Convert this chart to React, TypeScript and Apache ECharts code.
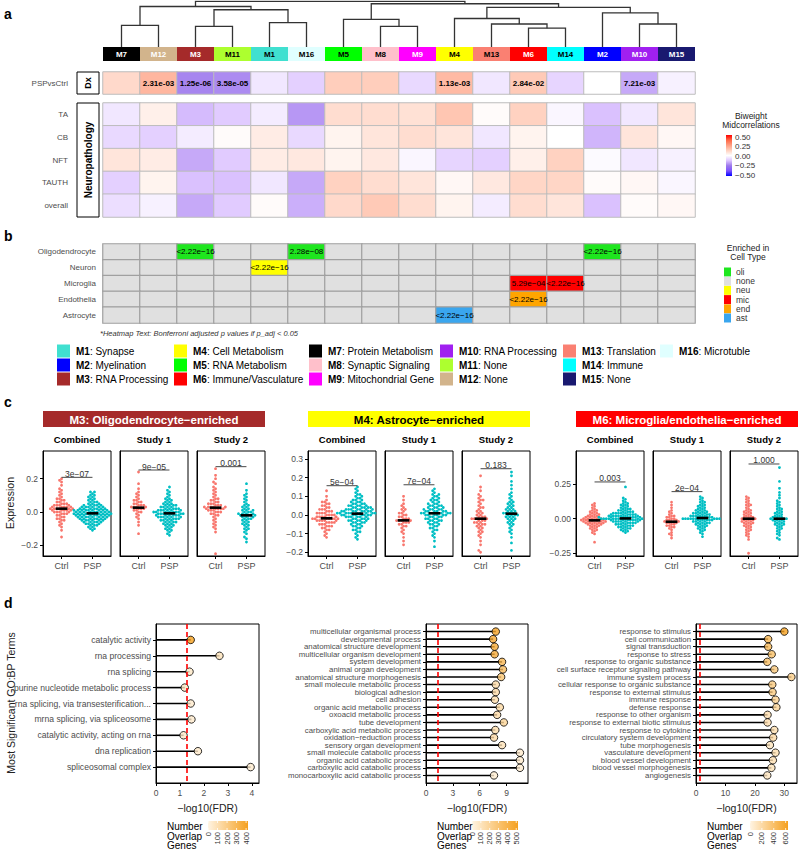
import React, { useEffect, useRef } from "react";
import * as echarts from "echarts";

const FONT = "'Liberation Sans', Arial, Helvetica, sans-serif";
const GREY = "#4D4D4D";

// ---------------- Panel a ----------------
const modules = ["M7", "M12", "M3", "M11", "M1", "M16", "M5", "M8", "M9", "M4", "M13", "M6", "M14", "M2", "M10", "M15"];
const moduleColors: Record<string, string> = {
  M1: "#40E0D0", M2: "#0000FF", M3: "#A52A2A", M4: "#FFFF00", M5: "#00FF00", M6: "#FF0000",
  M7: "#000000", M8: "#FFC0CB", M9: "#FF00FF", M10: "#A020F0", M11: "#ADFF2F", M12: "#D2B48C",
  M13: "#FA8072", M14: "#00FFFF", M15: "#191970", M16: "#E0FFFF",
};
const whiteLabelModules = ["M7", "M12", "M3", "M9", "M6", "M2", "M10", "M15"];
// dendrogram merges (left, right, height); "#k" = k-th merge
const mergeLeft = ["M7", "M3", "M1", "#1", "#0", "M8", "M5", "M6", "M13", "M4", "M10", "M2", "#9", "#6", "#4"];
const mergeRight = ["M12", "M11", "M16", "#2", "#3", "M9", "#5", "M14", "#7", "#8", "M15", "#10", "#11", "#12", "#13"];
const mergeHeight = [0.47, 0.45, 0.53, 0.81, 0.88, 0.45, 0.6, 0.41, 0.5, 0.62, 0.5, 0.74, 0.86, 0.94, 0.99];

const dxRow = ["PSPvsCtrl"];
const dxBicor = [0.1, 0.19, -0.23, -0.22, -0.05, -0.1, 0.13, 0.13, -0.08, 0.18, -0.05, 0.14, -0.09, 0.0, -0.17, -0.03];
const dxPText = ["", "2.31e-03", "1.25e-06", "3.58e-05", "", "", "", "", "", "1.13e-03", "", "2.84e-02", "", "", "7.21e-03", ""];

const npRows = ["TA", "CB", "NFT", "TAUTH", "overall"];
const npTA = [-0.05, 0.04, -0.14, -0.11, -0.04, -0.2, 0.09, 0.09, 0.08, 0.15, 0.01, 0.12, -0.02, -0.13, -0.05, 0.07];
const npCB = [-0.08, -0.1, -0.04, 0.01, 0.05, -0.08, 0.03, 0.07, 0.09, 0.07, -0.05, 0.03, 0.0, -0.15, 0.07, 0.02];
const npNFT = [0.07, 0.05, -0.17, -0.11, 0.05, 0.06, 0.03, 0.06, -0.02, -0.09, -0.1, 0.04, 0.12, -0.01, -0.05, -0.03];
const npTAUTH = [-0.1, 0.03, -0.13, -0.13, -0.05, -0.17, 0.12, 0.09, 0.07, 0.02, 0.06, 0.11, 0.11, 0.01, 0.02, -0.02];
const npOverall = [-0.07, -0.03, -0.17, -0.11, 0.01, -0.16, 0.1, 0.14, 0.09, 0.03, -0.04, 0.09, 0.07, -0.13, 0.01, 0.02];

const bicorColors = ["#0000FF", "#7F52FF", "#9D79EC", "#DDC4FF", "#FFFFFF", "#FFD0BE", "#FF9E82", "#FF6846", "#FF0000"];
const bicorTickLabels = ["0.50", "0.25", "0.00", "\u22120.25", "\u22120.50"];

// ---------------- Panel b ----------------
const cellTypes = ["Oligodendrocyte", "Neuron", "Microglia", "Endothelia", "Astrocyte"];
const enrichKeys = ["oli", "none", "neu", "mic", "end", "ast"];
const enrichColors = ["#1EE61E", "#E0E0E0", "#FFFF00", "#FF0000", "#FFA500", "#3AA6EE"];
const hitModule = ["M3", "M16", "M2", "M1", "M6", "M14", "M6", "M4"];
const hitCellType = ["Oligodendrocyte", "Oligodendrocyte", "Oligodendrocyte", "Neuron", "Microglia", "Microglia", "Endothelia", "Astrocyte"];
const hitEnrich = ["oli", "oli", "oli", "neu", "mic", "mic", "end", "ast"];
const hitP = ["<2.22e\u221216", "2.28e\u221208", "<2.22e\u221216", "<2.22e\u221216", "5.29e\u221204", "<2.22e\u221216", "<2.22e\u221216", "<2.22e\u221216"];
const footnote = "*Heatmap Text: Bonferroni adjusted p values if p_adj < 0.05";

const legendModules = ["M1", "M2", "M3", "M4", "M5", "M6", "M7", "M8", "M9", "M10", "M11", "M12", "M13", "M14", "M15", "M16"];
const legendNames = ["Synapse", "Myelination", "RNA Processing", "Cell Metabolism", "RNA Metabolism", "Immune/Vasculature",
  "Protein Metabolism", "Synaptic Signaling", "Mitochondrial Gene", "RNA Processing", "None", "None", "Translation", "Immune", "None", "Microtuble"];

// ---------------- Panel c (values in hundredths) ----------------
const cTitles = ["M3: Oligodendrocyte\u2212enriched", "M4: Astrocyte\u2212enriched", "M6: Microglia/endothelia\u2212enriched"];
const cFacets = ["Combined", "Study 1", "Study 2"];
const cGroups = ["Ctrl", "PSP"];
const cYMin = [-0.264, -0.22, -0.27];
const cYMax = [0.366, 0.343, 0.49];
const cYTicks = [[-0.2, 0, 0.2], [-0.2, -0.1, 0, 0.1, 0.2, 0.3], [-0.25, 0, 0.25]];
const cYTickLabels = [["\u22120.2", "0.0", "0.2"], ["\u22120.2", "\u22120.1", "0.0", "0.1", "0.2", "0.3"], ["\u22120.25", "0.00", "0.25"]];

const m3CombCtrl = [-15,-11,-9,-8,-7,-6,-5,-5,-4,-4,-3,-3,-2,-2,-1,-1,-1,0,0,0,0,1,1,1,1,1,2,2,2,2,2,2,3,3,3,3,3,4,4,4,4,5,5,5,6,6,7,7,8,8,9,10,11,12,13,14,16,18,19,20];
const m3CombPsp = [-11,-10,-10,-9,-9,-8,-8,-8,-7,-7,-7,-7,-6,-6,-6,-6,-6,-5,-5,-5,-5,-5,-5,-4,-4,-4,-4,-4,-4,-4,-3,-3,-3,-3,-3,-3,-3,-3,-2,-2,-2,-2,-2,-2,-2,-2,-2,-1,-1,-1,-1,-1,-1,-1,-1,-1,-1,0,0,0,0,0,0,0,0,0,1,1,1,1,1,1,1,1,1,2,2,2,2,2,2,2,3,3,3,3,3,3,4,4,4,4,4,5,5,5,6,6,6,7,7,8,8,9,9,10,10,11,12,12];
const m3S1Ctrl = [-13,-8,-6,-4,-3,-2,-1,0,0,1,1,2,2,2,3,3,3,3,4,4,4,5,5,6,6,7,7,8,9,10,11,12,14,17,24];
const m3S1Psp = [-14,-13,-12,-11,-11,-10,-10,-9,-9,-8,-8,-8,-7,-7,-7,-6,-6,-6,-6,-5,-5,-5,-5,-4,-4,-4,-4,-4,-3,-3,-3,-3,-3,-3,-2,-2,-2,-2,-2,-2,-1,-1,-1,-1,-1,-1,-1,0,0,0,0,0,0,0,1,1,1,1,1,1,2,2,2,2,2,3,3,3,3,4,4,4,4,5,5,5,6,6,7,7,8,8,9,10,11,12,13,15];
const m3S2Ctrl = [-25,-12,-10,-9,-8,-7,-6,-5,-4,-3,-2,-2,-1,-1,0,0,0,1,1,1,2,2,2,2,2,3,3,3,3,3,4,4,4,5,5,5,6,6,7,7,8,8,9,10,11,12,13,14,15,17,18,20,22,26];
const m3S2Psp = [-18,-16,-15,-13,-12,-11,-10,-10,-9,-8,-8,-7,-7,-6,-6,-5,-5,-4,-4,-4,-3,-3,-3,-2,-2,-2,-2,-2,-1,-1,-1,-1,0,0,0,1,1,1,2,2,3,3,4,4,5,6,7,8,9,10,11,13,17];

const m4CombCtrl = [-12,-11,-10,-9,-8,-8,-7,-7,-6,-6,-6,-5,-5,-5,-4,-4,-4,-4,-3,-3,-3,-3,-3,-2,-2,-2,-2,-2,-2,-2,-1,-1,-1,-1,-1,0,0,0,0,1,1,1,1,2,2,2,3,3,3,4,4,5,5,6,6,7,7,8,10,13];
const m4CombPsp = [-13,-12,-11,-10,-9,-9,-8,-8,-7,-7,-6,-6,-6,-5,-5,-5,-4,-4,-4,-4,-3,-3,-3,-3,-3,-2,-2,-2,-2,-2,-1,-1,-1,-1,-1,-1,0,0,0,0,0,0,0,0,1,1,1,1,1,1,1,1,1,1,2,2,2,2,2,2,2,2,3,3,3,3,3,3,3,4,4,4,4,4,4,5,5,5,5,5,6,6,6,6,7,7,7,8,8,8,9,9,10,10,11,11,12,13,14,15];
const m4S1Ctrl = [-16,-14,-12,-10,-9,-8,-7,-6,-6,-5,-5,-4,-4,-4,-3,-3,-3,-3,-2,-2,-2,-1,-1,0,0,1,1,2,3,3,4,5,6,8,10];
const m4S1Psp = [-17,-14,-12,-11,-10,-9,-8,-8,-7,-7,-6,-6,-5,-5,-5,-4,-4,-4,-3,-3,-3,-3,-2,-2,-2,-2,-1,-1,-1,-1,0,0,0,0,0,0,1,1,1,1,1,1,1,1,2,2,2,2,2,2,3,3,3,3,3,4,4,4,4,5,5,5,5,6,6,6,7,7,8,8,8,9,9,10,10,11,11,12,13,14];
const m4S2Ctrl = [-20,-19,-16,-14,-12,-11,-10,-9,-9,-8,-7,-7,-6,-6,-5,-5,-5,-4,-4,-4,-3,-3,-3,-2,-2,-2,-2,-2,-1,-1,-1,0,0,1,1,2,2,3,4,4,5,6,7,8,8,9,10,11,13,15,21];
const m4S2Psp = [-19,-15,-12,-10,-9,-8,-7,-6,-5,-5,-4,-4,-3,-3,-2,-2,-2,-1,-1,-1,0,0,0,0,1,1,1,1,2,2,2,3,3,3,4,4,5,5,6,6,7,7,8,9,10,11,12,14,16,18,21,23];

const m6CombCtrl = [-17,-11,-10,-9,-8,-8,-7,-7,-6,-6,-5,-5,-5,-4,-4,-4,-4,-3,-3,-3,-3,-3,-2,-2,-2,-2,-2,-2,-1,-1,-1,-1,-1,-1,0,0,0,0,0,1,1,1,1,2,2,2,3,3,3,4,4,5,5,6,6,7,8,9,10,11];
const m6CombPsp = [-10,-9,-9,-8,-8,-7,-7,-7,-6,-6,-6,-5,-5,-5,-5,-4,-4,-4,-4,-3,-3,-3,-3,-3,-2,-2,-2,-2,-2,-2,-1,-1,-1,-1,-1,-1,-1,0,0,0,0,0,0,0,0,0,0,0,0,0,0,1,1,1,1,1,1,1,1,2,2,2,2,2,2,2,3,3,3,3,3,3,4,4,4,4,4,5,5,5,5,6,6,6,7,7,7,8,8,9,9,10,10,11,11,12,13,14,15,23];
const m6S1Ctrl = [-14,-12,-11,-10,-8,-7,-6,-6,-5,-5,-4,-4,-3,-3,-3,-2,-2,-2,-2,-1,-1,-1,0,0,1,1,2,2,3,4,5,6,8,10,12];
const m6S1Psp = [-13,-11,-10,-9,-8,-8,-7,-7,-6,-6,-5,-5,-5,-4,-4,-4,-3,-3,-3,-3,-2,-2,-2,-2,-1,-1,-1,-1,-1,0,0,0,0,0,0,0,0,0,0,0,1,1,1,1,1,1,2,2,2,2,2,3,3,3,3,4,4,4,4,5,5,5,6,6,6,7,7,8,8,9,9,10,10,11,12,12,13,14,15,16];
const m6S2Ctrl = [-25,-15,-13,-12,-11,-10,-9,-8,-8,-7,-6,-6,-5,-5,-4,-4,-3,-3,-3,-2,-2,-2,-1,-1,-1,0,0,0,0,1,1,1,2,2,3,3,4,4,5,5,6,6,7,8,9,10,10,11,12,13,14,15,16];
const m6S2Psp = [-15,-14,-12,-11,-10,-9,-8,-7,-7,-6,-5,-5,-4,-4,-4,-3,-3,-2,-2,-2,-1,-1,-1,0,0,0,0,0,1,1,1,2,2,3,3,4,4,5,5,6,7,7,8,9,10,11,12,13,15,17,19,22,27,37];

const m3Medians = [[0.02, -0.008], [0.026, -0.008], [0.026, -0.02]];
const m4Medians = [[-0.018, 0.007], [-0.029, 0.009], [-0.02, 0.007]];
const m6Medians = [[-0.012, 0.002], [-0.022, 0.005], [0.0, 0.0]];
const m3Brackets = [0.208, 0.252, 0.272];
const m4Brackets = [0.157, 0.162, 0.248];
const m6Brackets = [0.266, 0.196, 0.396];
const m3PText = ["3e\u221207", "9e\u221205", "0.001"];
const m4PText = ["5e\u221204", "7e\u221204", "0.183"];
const m6PText = ["0.003", "2e\u221204", "1.000"];

// ---------------- Panel d ----------------
const dTerms1 = ["catalytic activity", "rna processing", "rna splicing", "purine nucleotide metabolic process",
  "rna splicing, via transesterification...", "mrna splicing, via spliceosome", "catalytic activity, acting on rna",
  "dna replication", "spliceosomal complex"];
const dFdr1 = [1.45, 2.65, 1.4, 1.2, 1.45, 1.48, 1.15, 1.75, 3.95];
const dGenes1 = [430, 90, 60, 70, 50, 50, 60, 55, 45];
const dTerms2 = ["multicellular organismal process", "developmental process", "anatomical structure development",
  "multicellular organism development", "system development", "animal organ development",
  "anatomical structure morphogenesis", "small molecule metabolic process", "biological adhesion", "cell adhesion",
  "organic acid metabolic process", "oxoacid metabolic process", "tube development", "carboxylic acid metabolic process",
  "oxidation\u2212reduction process", "sensory organ development", "small molecule catabolic process",
  "organic acid catabolic process", "carboxylic acid catabolic process", "monocarboxylic acid catabolic process"];
const dFdr2 = [7.8, 7.5, 7.67, 7.67, 8.5, 8.6, 8.4, 7.8, 7.8, 7.7, 8.25, 7.95, 8.7, 7.75, 7.6, 8.5, 10.5, 10.5, 10.5, 7.6];
const dGenes2 = [500, 470, 460, 450, 380, 350, 300, 150, 160, 150, 170, 160, 200, 150, 160, 120, 60, 60, 55, 50];
const dTerms3 = ["response to stimulus", "cell communication", "signal transduction", "response to stress",
  "response to organic substance", "cell surface receptor signaling pathway", "immune system process",
  "cellular response to organic substance", "response to external stimulus", "immune response", "defense response",
  "response to other organism", "response to external biotic stimulus", "response to cytokine",
  "circulatory system development", "tube morphogenesis", "vasculature development", "blood vessel development",
  "blood vessel morphogenesis", "angiogenesis"];
const dFdr3 = [30.0, 24.5, 24.5, 25.7, 24.2, 26.6, 32.4, 25.9, 26.0, 27.0, 27.3, 24.3, 24.3, 26.6, 26.2, 25.1, 27.0, 26.1, 25.6, 24.2];
const dGenes3 = [650, 470, 450, 400, 400, 330, 300, 320, 320, 270, 250, 180, 180, 170, 200, 130, 170, 160, 140, 120];
const dXMax = [4.3, 11.4, 34.3];
const dXTicks = [[0, 1, 2, 3, 4], [0, 3, 6, 9], [0, 10, 20, 30]];
const dLegendMax = [420, 520, 640];
const dLegendTicks = [[0, 100, 200, 300, 400], [0, 100, 200, 300, 400, 500], [0, 200, 400, 600]];
const fdrCutoffLog = 1.301;

// ---------------- layout ----------------
const HM_L = 103, HM_W = 592;
const C_START = [43, 308, 576], C_BOX_W = 68, C_GAP = 9, C_TOP = 451, C_H = 105;
const D_LEFT = [156, 426, 696], D_W = [103, 102, 101], D_TOP = 624, D_H = 159;
const D_TERM_FONT = [8.6, 7.8, 7.8];

function swarm(vals: number[], pxY: number, d: number): number[] {
  const order = vals.map((_, i) => i).sort((a, b) => vals[a] - vals[b]);
  const placed: { x: number; y: number }[] = [];
  const out = new Array(vals.length).fill(0);
  for (const i of order) {
    const y = vals[i] * pxY;
    const nb = placed.filter((p) => Math.abs(p.y - y) < d);
    const cands = [0];
    nb.forEach((p) => {
      const dx = Math.sqrt(Math.max(0, d * d - (p.y - y) * (p.y - y)));
      cands.push(p.x + dx + 1e-4, p.x - dx - 1e-4);
    });
    cands.sort((a, b) => Math.abs(a) - Math.abs(b) || a - b);
    let xo = 0;
    for (const c of cands) {
      if (nb.every((p) => (p.x - c) * (p.x - c) + (p.y - y) * (p.y - y) >= d * d - 1e-3)) { xo = c; break; }
    }
    placed.push({ x: xo, y });
    out[i] = xo;
  }
  return out;
}

function txt(x: number, y: number, text: string, o: any = {}) {
  const size = o.size ?? 9, weight = o.weight ?? "normal", color = o.color ?? "#000";
  const align = o.align ?? "left", valign = o.valign ?? "middle";
  return {
    type: "text", x, y, rotation: o.rotation ?? 0, silent: true, z: 100,
    style: {
      text, x: 0, y: 0, fill: color, fontSize: size, fontWeight: weight, fontStyle: o.italic ? "italic" : "normal",
      fontFamily: FONT, textAlign: align, align, textVerticalAlign: valign, verticalAlign: valign, rich: o.rich,
    },
  };
}

function buildOption() {
  const grid: any[] = [], xAxis: any[] = [], yAxis: any[] = [], series: any[] = [], visualMap: any[] = [], graphic: any[] = [];
  const add = (g: any, xa: any, ya: any) => {
    const i = grid.length;
    grid.push({ containLabel: false, outerBoundsMode: "none", ...g });
    xAxis.push({ gridIndex: i, ...xa });
    yAxis.push({ gridIndex: i, ...ya });
    return i;
  };
  const blackLine = { show: true, onZero: false, lineStyle: { color: "#000", width: 1 } };

  // ----- a: dendrogram -----
  const gD = add({ left: HM_L, top: 1, width: HM_W, height: 46 },
    { type: "value", min: 0, max: 16, show: false }, { type: "value", min: 0, max: 1, show: false });
  const pos: Record<string, number[]> = {};
  modules.forEach((m, i) => (pos[m] = [i + 0.5, 0]));
  const dLines = mergeLeft.map((l, k) => {
    const a = pos[l], b = pos[mergeRight[k]], h = mergeHeight[k];
    pos["#" + k] = [(a[0] + b[0]) / 2, h];
    return { coords: [[a[0], a[1]], [a[0], h], [b[0], h], [b[0], b[1]]] };
  });
  series.push({ type: "lines", coordinateSystem: "cartesian2d", xAxisIndex: gD, yAxisIndex: gD, polyline: true, silent: true,
    data: dLines, lineStyle: { color: "#333", width: 1.3, opacity: 1 } });

  // module colour boxes
  const gM = add({ left: HM_L, top: 47, width: HM_W, height: 14 },
    { type: "category", data: modules, show: false }, { type: "value", min: 0, max: 1, show: false });
  series.push({ type: "bar", xAxisIndex: gM, yAxisIndex: gM, barCategoryGap: "0%", silent: true,
    data: modules.map((m) => ({ value: 1, itemStyle: { color: moduleColors[m] },
      label: { color: whiteLabelModules.includes(m) ? "#fff" : "#000" } })),
    label: { show: true, position: "inside", formatter: "{b}", fontSize: 8, fontWeight: "bold", fontFamily: FONT } });

  // Dx row
  const gDx = add({ left: HM_L, top: 72, width: HM_W, height: 22 },
    { type: "category", data: modules, show: false },
    { type: "category", data: dxRow, axisLine: { show: false }, axisTick: { show: false },
      axisLabel: { fontSize: 8, color: GREY, margin: 35, fontFamily: FONT } });
  const dxIdx = series.length;
  series.push({ type: "heatmap", xAxisIndex: gDx, yAxisIndex: gDx, data: dxBicor.map((v, i) => [i, 0, v]),
    itemStyle: { borderColor: "#BDBDBD", borderWidth: 1 }, emphasis: { disabled: true },
    label: { show: true, formatter: (p: any) => dxPText[p.value[0]], fontSize: 8, fontWeight: "bold", color: "#000", fontFamily: FONT } });

  // neuropathology
  const gNp = add({ left: HM_L, top: 103, width: HM_W, height: 114 },
    { type: "category", data: modules, show: false },
    { type: "category", data: npRows, inverse: true, axisLine: { show: false }, axisTick: { show: false },
      axisLabel: { fontSize: 8, color: GREY, margin: 35, fontFamily: FONT } });
  const npIdx = series.length;
  const npData: any[] = [];
  [npTA, npCB, npNFT, npTAUTH, npOverall].forEach((row, r) => row.forEach((v, i) => npData.push([i, r, v])));
  series.push({ type: "heatmap", xAxisIndex: gNp, yAxisIndex: gNp, data: npData, emphasis: { disabled: true },
    itemStyle: { borderColor: "#BDBDBD", borderWidth: 1 } });
  visualMap.push({ type: "continuous", show: false, min: -0.5, max: 0.5, dimension: 2, seriesIndex: [dxIdx, npIdx],
    inRange: { color: bicorColors } });

  // ----- b: cell types -----
  const gC = add({ left: HM_L, top: 244, width: HM_W, height: 79 },
    { type: "category", data: modules, show: false },
    { type: "category", data: cellTypes, inverse: true, axisLine: { show: false }, axisTick: { show: false },
      axisLabel: { fontSize: 8, color: GREY, margin: 7, fontFamily: FONT } });
  const cellText: Record<string, string> = {};
  const cellType: Record<string, number> = {};
  hitModule.forEach((m, k) => {
    const key = modules.indexOf(m) + "," + cellTypes.indexOf(hitCellType[k]);
    cellText[key] = hitP[k];
    cellType[key] = enrichKeys.indexOf(hitEnrich[k]);
  });
  const cellData: any[] = [];
  cellTypes.forEach((_, r) => modules.forEach((_, i) => {
    const key = i + "," + r;
    cellData.push([i, r, cellType[key] ?? enrichKeys.indexOf("none")]);
  }));
  const cellIdx = series.length;
  series.push({ type: "heatmap", xAxisIndex: gC, yAxisIndex: gC, data: cellData, emphasis: { disabled: true },
    itemStyle: { borderColor: "#A0A0A0", borderWidth: 1.2 },
    label: { show: true, formatter: (p: any) => cellText[p.value[0] + "," + p.value[1]] ?? "", fontSize: 8, color: "#000", fontFamily: FONT } });
  visualMap.push({ type: "piecewise", show: false, dimension: 2, seriesIndex: cellIdx,
    pieces: enrichKeys.map((_, i) => ({ value: i, color: enrichColors[i] })) });

  // ----- c: beeswarm facets -----
  const cData = [
    [[m3CombCtrl, m3CombPsp], [m3S1Ctrl, m3S1Psp], [m3S2Ctrl, m3S2Psp]],
    [[m4CombCtrl, m4CombPsp], [m4S1Ctrl, m4S1Psp], [m4S2Ctrl, m4S2Psp]],
    [[m6CombCtrl, m6CombPsp], [m6S1Ctrl, m6S1Psp], [m6S2Ctrl, m6S2Psp]],
  ];
  const cMed = [m3Medians, m4Medians, m6Medians];
  const cBr = [m3Brackets, m4Brackets, m6Brackets];
  const cBrText = [m3PText, m4PText, m6PText];
  const groupColors = ["#F8766D", "#00BFC4"];
  cData.forEach((facets, mi) => {
    facets.forEach((groups, f) => {
      const left = C_START[mi] + f * (C_BOX_W + C_GAP);
      const ticks = cYTicks[mi];
      const g = add({ left, top: C_TOP, width: C_BOX_W, height: C_H, show: true, borderColor: "#000", borderWidth: 1 },
        { type: "value", min: 0.4, max: 2.6, splitLine: { show: false }, axisLine: blackLine,
          axisTick: { show: true, customValues: [1, 2], length: 3, lineStyle: { color: "#000" } },
          axisLabel: { customValues: [1, 2], formatter: (v: number) => cGroups[Math.round(v) - 1], fontSize: 9, color: GREY, margin: 5, fontFamily: FONT } },
        { type: "value", min: cYMin[mi], max: cYMax[mi], splitLine: { show: false }, axisLine: blackLine,
          axisTick: { show: f === 0, customValues: ticks, length: 3, lineStyle: { color: "#000" } },
          axisLabel: { show: f === 0, customValues: ticks, fontSize: 8.5, color: GREY, margin: 5, fontFamily: FONT,
            showMinLabel: true, showMaxLabel: true, hideOverlap: false,
            formatter: (v: number) => {
              let bi = 0;
              ticks.forEach((t, k) => { if (Math.abs(t - v) < Math.abs(ticks[bi] - v)) bi = k; });
              return cYTickLabels[mi][bi];
            } } });
      const pxX = C_BOX_W / 2.2, pxY = C_H / (cYMax[mi] - cYMin[mi]);
      groups.forEach((vals100, gi) => {
        const vals = vals100.map((v) => v / 100);
        const off = swarm(vals, pxY, 2.6);
        series.push({ type: "scatter", xAxisIndex: g, yAxisIndex: g, symbolSize: 2.8, silent: true, z: 3,
          itemStyle: { color: groupColors[gi], opacity: 1 },
          data: vals.map((v, i) => [gi + 1 + off[i] / pxX, v]) });
      });
      series.push({ type: "custom", xAxisIndex: g, yAxisIndex: g, silent: true, z: 5,
        data: [[1, cMed[mi][f][0]], [2, cMed[mi][f][1]]],
        renderItem: (_p: any, api: any) => {
          const a = api.coord([api.value(0) - 0.19, api.value(1)]);
          const b = api.coord([api.value(0) + 0.19, api.value(1)]);
          return { type: "line", shape: { x1: a[0], y1: a[1], x2: b[0], y2: b[1] }, style: { stroke: "#000", lineWidth: 2.6 } };
        } });
      series.push({ type: "custom", xAxisIndex: g, yAxisIndex: g, silent: true, z: 5,
        data: [[1, 2, cBr[mi][f]]],
        renderItem: (_p: any, api: any) => {
          const a = api.coord([api.value(0), api.value(2)]);
          const b = api.coord([api.value(1), api.value(2)]);
          return { type: "group", children: [
            { type: "line", shape: { x1: a[0], y1: a[1], x2: b[0], y2: b[1] }, style: { stroke: "#333", lineWidth: 0.9 } },
            { type: "text", style: { text: cBrText[mi][f], x: (a[0] + b[0]) / 2, y: a[1] + 1, fill: "#333", fontSize: 8.5,
              fontFamily: FONT, textAlign: "center", align: "center", textVerticalAlign: "bottom", verticalAlign: "bottom" } },
          ] };
        } });
    });
  });

  // ----- d: GO lollipops -----
  const dTerms = [dTerms1, dTerms2, dTerms3], dFdr = [dFdr1, dFdr2, dFdr3], dGenes = [dGenes1, dGenes2, dGenes3];
  dTerms.forEach((terms, p) => {
    const n = terms.length;
    const idxs = terms.map((_, i) => i + 1);
    const g = add({ left: D_LEFT[p], top: D_TOP, width: D_W[p], height: D_H, show: true, borderColor: "#000", borderWidth: 1 },
      { type: "value", min: 0, max: dXMax[p], splitLine: { show: false }, axisLine: blackLine,
        axisTick: { show: true, customValues: dXTicks[p], length: 3, lineStyle: { color: "#000" } },
        axisLabel: { customValues: dXTicks[p], fontSize: 8.5, color: GREY, margin: 5, fontFamily: FONT,
          showMinLabel: true, showMaxLabel: true, hideOverlap: false } },
      { type: "value", min: 0, max: n + 1, inverse: true, splitLine: { show: false }, axisLine: blackLine,
        axisTick: { show: true, customValues: idxs, length: 3, lineStyle: { color: "#000" } },
        axisLabel: { show: false } });
    // term labels (one per data row, placed through the y scale)
    const fs = D_TERM_FONT[p];
    series.push({ type: "custom", xAxisIndex: g, yAxisIndex: g, silent: true, clip: false, z: 6,
      data: terms.map((_, i) => [0, i + 1]),
      renderItem: (pr: any, api: any) => {
        const pt = api.coord([0, api.value(1)]);
        return { type: "text", style: { text: terms[pr.dataIndex], x: pt[0] - 5, y: pt[1], fill: GREY, fontSize: fs, fontFamily: FONT,
          textAlign: "right", align: "right", textVerticalAlign: "middle", verticalAlign: "middle" } };
      } });
    series.push({ type: "custom", xAxisIndex: g, yAxisIndex: g, silent: true, z: 2,
      data: dFdr[p].map((v, i) => [v, i + 1]),
      renderItem: (_p: any, api: any) => {
        const a = api.coord([0, api.value(1)]);
        const b = api.coord([api.value(0), api.value(1)]);
        return { type: "line", shape: { x1: a[0], y1: a[1], x2: b[0], y2: b[1] }, style: { stroke: "#000", lineWidth: 1.6 } };
      } });
    series.push({ type: "scatter", xAxisIndex: g, yAxisIndex: g, silent: true, z: 3, symbolSize: 1,
      itemStyle: { opacity: 0 }, data: [[fdrCutoffLog, 0]],
      label: { show: true, position: "top", distance: 3, formatter: "\u2212log10(0.05)", color: "#FF0000", fontSize: 8.5, fontFamily: FONT },
      markLine: { silent: true, symbol: ["none", "none"], label: { show: false },
        lineStyle: { color: "#FF0000", type: [5, 3], width: 1.6 }, data: [{ xAxis: fdrCutoffLog }] } });
    const scIdx = series.length;
    series.push({ type: "scatter", xAxisIndex: g, yAxisIndex: g, silent: true, z: 4, symbolSize: 7.5,
      itemStyle: { borderColor: "#000", borderWidth: 1 },
      data: dFdr[p].map((v, i) => [v, i + 1, dGenes[p][i]]) });
    visualMap.push({ type: "continuous", show: false, min: 0, max: dLegendMax[p], dimension: 2, seriesIndex: scIdx,
      inRange: { color: ["#FFF4E3", "#F5A01E"] } });

    // axis title + legend
    graphic.push(txt(D_LEFT[p] + D_W[p] / 2, 808, "\u2212log10(FDR)", { size: 10.5, align: "center", color: "#222" }));
    const lx = D_LEFT[p] + 11, bx = D_LEFT[p] + (p === 0 ? 52 : p === 1 ? 46 : 54), bw = p === 0 ? 40 : p === 1 ? 46 : 38;
    graphic.push(txt(lx, 826, "Number", { size: 10 }));
    graphic.push(txt(lx, 836, "Overlap", { size: 10 }));
    graphic.push(txt(lx, 845.5, "Genes", { size: 10 }));
    graphic.push({ type: "rect", silent: true, shape: { x: bx, y: 821, width: bw, height: 9 },
      style: { fill: { type: "linear", x: 0, y: 0, x2: 1, y2: 0, colorStops: [{ offset: 0, color: "#FFF4E3" }, { offset: 1, color: "#F5A01E" }] } } });
    dLegendTicks[p].forEach((t) => {
      const x = bx + (t / dLegendMax[p]) * bw;
      graphic.push({ type: "line", silent: true, shape: { x1: x, y1: 821, x2: x, y2: 823 }, style: { stroke: "#fff", lineWidth: 0.8 } });
      graphic.push({ type: "line", silent: true, shape: { x1: x, y1: 828, x2: x, y2: 830 }, style: { stroke: "#fff", lineWidth: 0.8 } });
      graphic.push(txt(x, 832, String(t), { size: 7.5, rotation: Math.PI / 2, align: "right", color: "#333" }));
    });
  });

  // ----- static texts / legends -----
  graphic.push(txt(4, 14, "a", { size: 14, weight: "bold" }));
  graphic.push(txt(4, 236, "b", { size: 14, weight: "bold" }));
  graphic.push(txt(4, 402, "c", { size: 14, weight: "bold" }));
  graphic.push(txt(4, 603, "d", { size: 14, weight: "bold" }));

  // strip boxes for Dx / Neuropathology
  graphic.push({ type: "rect", silent: true, shape: { x: 77, y: 72, width: 22, height: 22 }, style: { fill: "#fff", stroke: "#000", lineWidth: 1 } });
  graphic.push(txt(88, 83, "Dx", { size: 9, weight: "bold", rotation: Math.PI / 2, align: "center" }));
  graphic.push({ type: "rect", silent: true, shape: { x: 77, y: 103, width: 22, height: 114 }, style: { fill: "#fff", stroke: "#000", lineWidth: 1 } });
  graphic.push(txt(88, 160, "Neuropathology", { size: 10, weight: "bold", rotation: Math.PI / 2, align: "center" }));

  // bicor legend
  graphic.push(txt(751, 116, "Biweight", { size: 8.5, align: "center", color: "#222" }));
  graphic.push(txt(751, 125, "Midcorrelations", { size: 8.5, align: "center", color: "#222" }));
  graphic.push({ type: "rect", silent: true, shape: { x: 726, y: 135, width: 6, height: 41 },
    style: { fill: { type: "linear", x: 0, y: 0, x2: 0, y2: 1,
      colorStops: bicorColors.slice().reverse().map((c, i) => ({ offset: i / (bicorColors.length - 1), color: c })) } } });
  bicorTickLabels.forEach((l, i) => graphic.push(txt(735, 137 + i * 9.5, l, { size: 8, color: "#333" })));

  // cell-type legend
  graphic.push(txt(748, 248, "Enriched in", { size: 8.5, align: "center", color: "#222" }));
  graphic.push(txt(748, 257, "Cell Type", { size: 8.5, align: "center", color: "#222" }));
  enrichKeys.forEach((k, i) => {
    const y = 272 + i * 9.2;
    graphic.push({ type: "rect", silent: true, shape: { x: 724, y: y - 4.5, width: 7, height: 9 }, style: { fill: enrichColors[i] } });
    graphic.push(txt(736, y, k, { size: 8.5, color: "#333" }));
  });
  graphic.push(txt(100, 333, footnote, { size: 7.5, italic: true, color: "#333" }));

  // module legend
  const colSw = [57, 174, 309, 440, 563, 660];
  legendModules.forEach((m, i) => {
    const col = Math.floor(i / 3), row = i % 3;
    const y = 351 + row * 14;
    graphic.push({ type: "rect", silent: true, shape: { x: colSw[col], y: y - 6.5, width: 13, height: 13 }, style: { fill: moduleColors[m] } });
    graphic.push(txt(colSw[col] + 19, y, `{b|${m}}: ${legendNames[i]}`, { size: 10,
      rich: { b: { fontWeight: "bold", fontSize: 10, fontFamily: FONT } } }));
  });

  // panel c titles
  const cBarColors = [moduleColors.M3, moduleColors.M4, moduleColors.M6];
  const cBarText = ["#fff", "#000", "#fff"];
  C_START.forEach((sx, mi) => {
    const w = 3 * C_BOX_W + 2 * C_GAP;
    graphic.push({ type: "rect", silent: true, shape: { x: sx, y: 411, width: w, height: 16 }, style: { fill: cBarColors[mi] } });
    graphic.push(txt(sx + w / 2, 419.5, cTitles[mi], { size: 11.5, weight: "bold", align: "center", color: cBarText[mi] }));
    cFacets.forEach((f, fi) => {
      graphic.push(txt(sx + fi * (C_BOX_W + C_GAP) + C_BOX_W / 2, 439, f, { size: 9.5, weight: "bold", align: "center" }));
    });
  });
  graphic.push(txt(10, 503, "Expression", { size: 10.5, rotation: Math.PI / 2, align: "center", color: "#222" }));
  graphic.push(txt(11, 703, "Most Significant GO:BP Terms", { size: 10.5, rotation: Math.PI / 2, align: "center", color: "#222" }));

  return { animation: false, textStyle: { fontFamily: FONT }, grid, xAxis, yAxis, series, visualMap, graphic };
}

export default function App() {
  const ref = useRef<HTMLDivElement>(null);
  useEffect(() => {
    document.body.style.margin = "0";
    const chart = echarts.init(ref.current!, null, { renderer: "svg" });
    chart.setOption(buildOption() as any);
    return () => chart.dispose();
  }, []);
  return <div ref={ref} style={{ width: 800, height: 851, background: "#fff" }} />;
}
